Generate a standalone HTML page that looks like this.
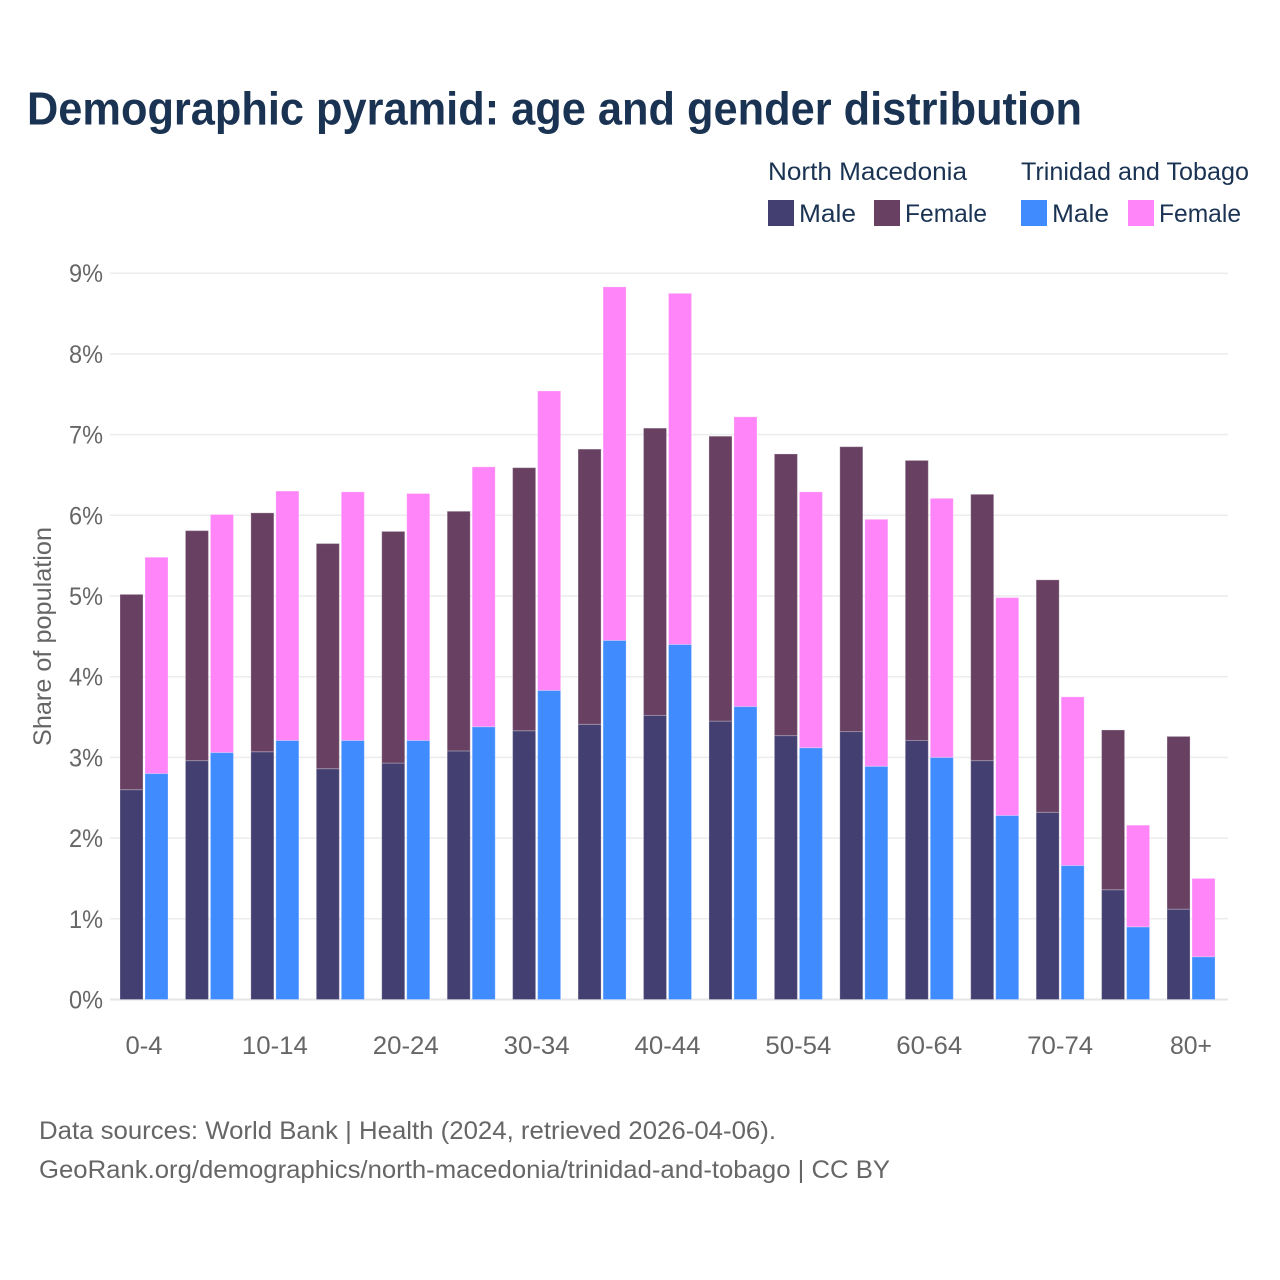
<!DOCTYPE html>
<html lang="en">
<head>
<meta charset="utf-8">
<title>Demographic pyramid: age and gender distribution</title>
<style>
html,body{margin:0;padding:0;background:#fff}
svg{display:block;font-family:"Liberation Sans",sans-serif}
.lg{font-size:25px;fill:#1a3353}
.mut{font-size:25px;fill:#666}
</style>
</head>
<body>
<svg id="chart" width="1280" height="1280" viewBox="0 0 1280 1280" xmlns="http://www.w3.org/2000/svg">
<rect x="0" y="0" width="1280" height="1280" fill="#fff"/>
<text x="27" y="124.5" font-size="46" font-weight="700" fill="#1a3353" textLength="1055" lengthAdjust="spacingAndGlyphs">Demographic pyramid: age and gender distribution</text>

<g>
<text class="lg" x="768" y="180" textLength="199" lengthAdjust="spacingAndGlyphs">North Macedonia</text>
<text class="lg" x="1021" y="180" textLength="228" lengthAdjust="spacingAndGlyphs">Trinidad and Tobago</text>
<rect x="768" y="200" width="26" height="26" fill="#433f71"/>
<text class="lg" x="799" y="222" textLength="57" lengthAdjust="spacingAndGlyphs">Male</text>
<rect x="874" y="200" width="26" height="26" fill="#684162"/>
<text class="lg" x="905" y="222" textLength="82" lengthAdjust="spacingAndGlyphs">Female</text>
<rect x="1021" y="200" width="26" height="26" fill="#408cff"/>
<text class="lg" x="1052" y="222" textLength="57" lengthAdjust="spacingAndGlyphs">Male</text>
<rect x="1128" y="200" width="26" height="26" fill="#ff85f8"/>
<text class="lg" x="1159" y="222" textLength="82" lengthAdjust="spacingAndGlyphs">Female</text>
</g>

<g id="grid"></g>
<g id="yticks"></g>
<g id="bars"></g>
<g id="xticks"></g>

<text class="mut" transform="translate(51,746) rotate(-90)" x="0" y="0" textLength="219" lengthAdjust="spacingAndGlyphs">Share of population</text>

<text class="mut" x="39" y="1139" textLength="737" lengthAdjust="spacingAndGlyphs">Data sources: World Bank | Health (2024, retrieved 2026-04-06).</text>
<text class="mut" x="39" y="1178" textLength="851" lengthAdjust="spacingAndGlyphs">GeoRank.org/demographics/north-macedonia/trinidad-and-tobago | CC BY</text>
</svg>

<script>
const categories = ['0-4','5-9','10-14','15-19','20-24','25-29','30-34','35-39','40-44','45-49','50-54','55-59','60-64','65-69','70-74','75-79','80+'];
const nmMale = [2.60,2.96,3.07,2.86,2.93,3.08,3.33,3.41,3.52,3.45,3.27,3.32,3.21,2.96,2.32,1.36,1.12];
const nmFemale = [2.42,2.85,2.96,2.79,2.87,2.97,3.26,3.41,3.56,3.53,3.49,3.53,3.47,3.30,2.88,1.98,2.14];
const ttMale = [2.80,3.06,3.21,3.21,3.21,3.38,3.83,4.45,4.40,3.63,3.12,2.89,3.00,2.28,1.66,0.90,0.53];
const ttFemale = [2.68,2.95,3.09,3.08,3.06,3.22,3.71,4.38,4.35,3.59,3.17,3.06,3.21,2.70,2.09,1.26,0.97];
const yTicks = [0,1,2,3,4,5,6,7,8,9];

const NS = 'http://www.w3.org/2000/svg';
const plotLeft = 110, plotRight = 1228, y0 = 999.5, pxPerUnit = 80.7;
const firstBar = 120, step = 65.44, barW = 23, pairOffset = 25;
const yScale = v => y0 - v * pxPerUnit;
const xScale = (i, series) => firstBar + i * step + series * pairOffset;

function make(tag, parent, attrs) {
  const el = document.createElementNS(NS, tag);
  for (const k in attrs) el.setAttribute(k, attrs[k]);
  parent.appendChild(el);
  return el;
}

const grid = document.getElementById('grid');
const yG = document.getElementById('yticks');
yTicks.forEach(t => {
  const line = make('line', grid, {x1: plotLeft, x2: plotRight, y1: yScale(t), y2: yScale(t), stroke: t === 0 ? '#e6e6e6' : '#ececec', 'stroke-width': t === 0 ? 2 : 1.5});
  
  
  const lab = make('text', yG, {x: 103, y: yScale(t) + 9, 'text-anchor': 'end', class: 'mut', textLength: 34, lengthAdjust: 'spacingAndGlyphs'});
  lab.textContent = t + '%';
  
  
});

const barsG = document.getElementById('bars');
const colors = {nmM: '#433f71', nmF: '#684162', ttM: '#408cff', ttF: '#ff85f8'};
function seg(x, base, val, fill) {
  const top = yScale(base + val);
  const r = make('rect', barsG, {x: x, y: top, width: barW, height: yScale(base) - top, fill: fill, stroke: 'rgba(255,255,255,0.25)', 'stroke-width': 1});
  return r;
}
categories.forEach((c, i) => {
  const a = seg(xScale(i, 0), 0, nmMale[i], colors.nmM);
  
  
  const b = seg(xScale(i, 0), nmMale[i], nmFemale[i], colors.nmF);
  
  
  const d = seg(xScale(i, 1), 0, ttMale[i], colors.ttM);
  
  
  const e = seg(xScale(i, 1), ttMale[i], ttFemale[i], colors.ttF);
  
  
});

const xG = document.getElementById('xticks');
categories.forEach((c, i) => {
  if (i % 2) return;
  const w = c.length === 5 ? 66 : (c === '80+' ? 42 : 37);
  const lab = make('text', xG, {x: xScale(i, 0) + 24, y: 1054, 'text-anchor': 'middle', class: 'mut', textLength: w, lengthAdjust: 'spacingAndGlyphs'});
  lab.textContent = c;
  
  
});
</script>
</body>
</html>
